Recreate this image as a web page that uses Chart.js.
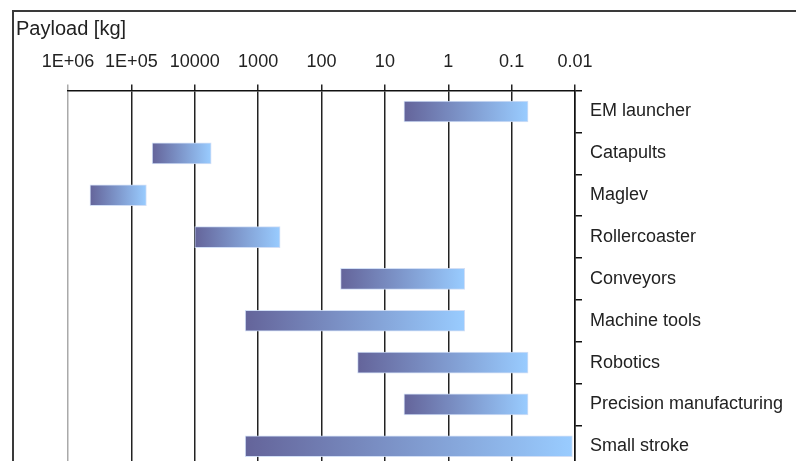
<!DOCTYPE html>
<html>
<head>
<meta charset="utf-8">
<script src="https://cdn.jsdelivr.net/npm/chart.js@4"></script>
<style>
  html, body { margin: 0; padding: 0; background: #fff; overflow: hidden; width: 796px; height: 461px; }
  #frame { position: absolute; left: 12px; top: 10px; width: 900px; height: 600px; border: 2px solid #3a3a3a; box-sizing: border-box; }
  #title { position: absolute; left: 16px; top: 17px; font: 20px "Liberation Sans", Arial, sans-serif; color: #222; }
  #chart { position: absolute; left: 0; top: 0; }
</style>
</head>
<body>
<div id="frame"></div>
<canvas id="chart" width="796" height="486"></canvas>
<div id="title">Payload [kg]</div>
<script>
// categories (top to bottom) and payload range in kg
var categories = ['EM launcher', 'Catapults', 'Maglev', 'Rollercoaster', 'Conveyors',
  'Machine tools', 'Robotics', 'Precision manufacturing', 'Small stroke'];
var payloadMax = [5, 47000, 450000, 10000, 50, 1600, 27, 5, 1600];
var payloadMin = [0.055, 5500, 58000, 450, 0.55, 0.55, 0.055, 0.055, 0.011];

// decade ticks, left to right (axis is reversed)
var tickValues = [1e6, 1e5, 1e4, 1000, 100, 10, 1, 0.1, 0.01];
var tickLabels = ['1E+06', '1E+05', '10000', '1000', '100', '10', '1', '0.1', '0.01'];

var FONT = '"Liberation Sans", Arial, sans-serif';

// horizontal gradient per bar, dark on the heavy side
function barGradient(ctx) {
  var chart = ctx.chart;
  if (!chart.chartArea || !ctx.raw) return '#7f8fc0';
  var xs = chart.scales.x;
  var a = xs.getPixelForValue(ctx.raw[0]);
  var b = xs.getPixelForValue(ctx.raw[1]);
  var g = chart.ctx.createLinearGradient(Math.min(a, b), 0, Math.max(a, b), 0);
  g.addColorStop(0, '#64649a');
  g.addColorStop(1, '#99ccff');
  return g;
}

var ranges = categories.map(function(c, i) { return [payloadMax[i], payloadMin[i]]; });

new Chart(document.getElementById('chart').getContext('2d'), {
  type: 'bar',
  data: {
    labels: categories,
    datasets: [{
      data: ranges,
      backgroundColor: barGradient,
      borderColor: 'rgba(205,220,245,0.9)',
      borderWidth: 1,
      borderSkipped: false,
      barThickness: 21
    }]
  },
  options: {
    indexAxis: 'y',
    responsive: false,
    animation: false,
    events: [],
    layout: { padding: { left: 68, top: 39, bottom: 0, right: 0 } },
    plugins: { legend: { display: false }, tooltip: { enabled: false }, title: { display: false } },
    scales: {
      x: {
        type: 'logarithmic',
        position: 'top',
        reverse: true,
        min: 0.01, max: 1e6,
        afterBuildTicks: function(scale) {
          scale.ticks = tickValues.map(function(v) { return { value: v }; });
        },
        border: { display: true, color: '#111', width: 1.5 },
        grid: {
          display: true, drawOnChartArea: true, drawTicks: true, tickLength: 6,
          lineWidth: 1.5,
          color: function(c) { return c.tick && c.tick.value === 1e6 ? '#aaa' : '#222'; }
        },
        ticks: {
          autoSkip: false, maxRotation: 0, padding: 12,
          color: '#222', font: { family: FONT, size: 18 },
          callback: function(v, i) { return tickLabels[i]; }
        }
      },
      y: {
        position: 'right',
        afterFit: function(scale) { scale.width = 221; },
        border: { display: true, color: '#111', width: 1.5 },
        grid: { display: true, drawOnChartArea: false, drawTicks: true, tickLength: 7, color: '#111', lineWidth: 1.5, offset: true },
        ticks: { padding: 8, color: '#222', font: { family: FONT, size: 18 } }
      }
    }
  }
});
</script>
</body>
</html>
